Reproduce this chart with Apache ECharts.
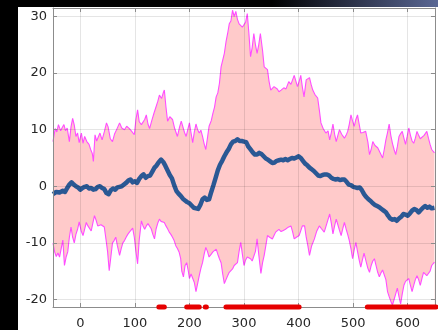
<!DOCTYPE html>
<html lang="en">
<head>
  <meta charset="UTF-8">
  <title>mean with spread</title>
  <style>
    html, body { margin: 0; padding: 0; background: #fff; }
    #main { width: 438px; height: 330px; }
  </style>
</head>
<body>
  <div id="main"></div>
</body>
<script src="https://cdn.jsdelivr.net/npm/echarts@6/dist/echarts.min.js"></script>
<script>
  var chart = echarts.init(document.getElementById('main'));

  // axis ranges and tick labels
  var X_MIN = -50, X_MAX = 650;
  var Y_MIN = -21.33, Y_MAX = 31.5;
  var xTicks = [0, 100, 200, 300, 400, 500, 600];
  var yTicks = [-20, -10, 0, 10, 20, 30];

  // upper bound (magenta)
  var upper = [
    [-50,7.9],[-46,10.2],[-43,9.6],[-40,10.9],[-36,9.8],[-33,10.4],[-30,10.9],[-27,9.8],[-24,10.3],[-20,7.9],
    [-17,10.5],[-14,12.0],[-11,10.8],[-8,8.8],[-5,9.4],[-2,7.7],[2,9.4],[5,7.6],[8,8.8],[12,7.9],
    [16,7.4],[19,6.5],[22,5.8],[24,4.4],[27,9.1],[30,8.0],[33,7.7],[36,9.4],[40,8.2],[44,9.6],
    [48,11.2],[51,10.5],[55,8.4],[59,7.9],[63,9.3],[67,10.1],[72,11.2],[76,10.3],[81,10.0],[85,10.6],
    [90,10.2],[95,9.6],[99,9.1],[102,11.8],[105,13.5],[108,11.4],[112,10.9],[115,10.9],[118,11.8],[121,12.6],
    [124,11.0],[127,10.2],[131,11.6],[135,12.9],[139,14.1],[142,15.0],[145,16.1],[149,15.5],[152,16.5],[154,17.0],
    [157,14.0],[160,11.5],[164,12.3],[169,11.8],[173,10.2],[178,8.8],[182,10.5],[185,11.5],[188,11.5],[191,9.5],
    [194,8.8],[197,10.0],[200,11.2],[203,9.4],[206,7.7],[209,9.6],[212,11.0],[215,10.0],[218,9.4],[221,9.9],
    [224,8.8],[227,7.5],[230,6.5],[233,8.5],[236,10.6],[240,11.6],[243,12.9],[246,14.0],[249,15.8],[252,16.5],
    [255,18.2],[258,21.1],[261,22.3],[264,23.5],[267,25.5],[270,27.0],[273,28.7],[276,29.2],[279,31.1],[282,30.0],
    [285,30.9],[288,29.5],[291,28.7],[294,28.8],[297,28.1],[300,28.0],[303,29.0],[306,30.5],[309,27.0],[312,22.9],
    [315,24.5],[318,27.0],[321,25.0],[324,23.5],[327,25.0],[330,27.0],[334,24.0],[337,21.1],[340,21.4],[343,20.6],
    [346,18.5],[349,17.0],[352,17.2],[355,17.6],[358,17.9],[361,17.2],[364,16.7],[368,17.0],[373,17.4],[377,17.2],
    [382,18.5],[386,18.0],[389,18.8],[392,19.6],[395,19.9],[398,17.6],[401,18.5],[404,19.6],[407,17.5],[410,15.8],
    [414,18.8],[417,19.0],[420,19.2],[423,18.0],[426,17.0],[430,16.2],[435,15.6],[438,13.5],[441,11.2],[445,10.2],
    [450,9.4],[454,9.8],[457,8.2],[460,9.5],[463,11.0],[466,9.2],[469,7.9],[472,9.0],[475,10.0],[479,9.2],
    [484,8.5],[487,9.0],[490,9.7],[493,11.0],[496,12.6],[499,11.5],[502,10.6],[505,11.8],[508,12.6],[511,11.0],
    [514,9.4],[518,9.5],[523,9.7],[527,7.8],[530,5.6],[533,6.5],[536,7.9],[540,7.2],[545,6.8],[549,6.0],
    [554,5.0],[557,6.5],[560,8.2],[563,9.5],[566,11.0],[569,9.0],[572,7.6],[575,6.5],[578,5.6],[581,7.0],
    [584,8.8],[587,9.3],[590,9.7],[593,8.5],[596,7.4],[599,8.8],[602,10.3],[605,9.0],[608,8.0],[611,7.6],
    [614,8.5],[617,9.7],[620,9.0],[623,8.4],[626,8.2],[630,9.0],[635,9.7],[638,8.5],[641,7.4],[644,6.5],[649,5.9]
  ];

  // lower bound (magenta)
  var lower = [
    [-50,-10.0],[-47,-11.6],[-44,-12.4],[-41,-11.8],[-38,-12.5],[-35,-12.5],[-32,-9.5],[-29,-14.0],[-26,-12.5],[-23,-11.6],
    [-20,-9.0],[-17,-7.2],[-14,-9.0],[-11,-10.0],[-8,-8.5],[-5,-7.6],[-2,-6.3],[2,-8.0],[5,-8.7],[8,-8.7],
    [11,-6.4],[14,-7.0],[17,-7.0],[20,-7.9],[23,-6.5],[26,-5.2],[29,-6.0],[32,-7.0],[35,-7.2],[38,-6.8],
    [41,-7.0],[44,-7.2],[47,-9.3],[50,-11.5],[53,-14.9],[56,-12.5],[59,-10.0],[62,-9.6],[65,-9.0],[68,-10.5],
    [72,-12.2],[75,-11.0],[78,-10.0],[81,-9.6],[84,-9.0],[87,-8.5],[90,-8.1],[93,-7.8],[96,-7.4],[99,-9.0],
    [102,-11.5],[105,-13.7],[108,-9.5],[112,-6.1],[115,-7.0],[118,-7.6],[121,-7.0],[124,-6.6],[127,-6.4],[130,-7.5],
    [133,-8.5],[136,-9.3],[139,-7.5],[142,-6.5],[145,-5.8],[148,-6.2],[151,-6.0],[154,-6.4],[157,-7.0],[160,-7.5],
    [163,-8.1],[166,-8.5],[169,-9.0],[172,-9.6],[175,-10.5],[178,-11.0],[181,-11.6],[184,-12.8],[186,-15.0],[189,-16.0],
    [192,-14.0],[195,-13.5],[198,-15.0],[200,-16.3],[203,-15.5],[206,-15.2],[209,-17.0],[212,-18.6],[215,-17.2],[218,-15.8],
    [221,-14.5],[224,-13.5],[227,-12.0],[230,-10.8],[233,-11.5],[236,-12.5],[240,-12.0],[243,-11.6],[246,-11.3],[249,-11.1],
    [252,-12.0],[255,-12.8],[258,-13.5],[261,-15.5],[264,-17.2],[267,-16.5],[270,-15.8],[273,-15.2],[276,-15.0],[279,-14.6],
    [282,-14.0],[285,-13.8],[288,-13.5],[291,-11.5],[294,-9.9],[297,-12.0],[300,-14.0],[303,-13.0],[306,-12.5],[309,-12.2],
    [312,-12.8],[315,-13.2],[318,-13.5],[321,-11.5],[324,-9.3],[327,-12.0],[331,-15.4],[334,-13.5],[337,-12.2],[340,-10.5],
    [343,-8.7],[347,-9.0],[352,-9.3],[355,-8.7],[358,-8.1],[361,-7.8],[364,-7.6],[368,-8.0],[372,-7.8],[376,-7.6],
    [380,-7.3],[383,-7.2],[386,-7.0],[389,-8.0],[392,-9.3],[396,-9.0],[401,-8.7],[404,-8.5],[407,-7.0],[411,-7.0],
    [414,-9.0],[417,-10.5],[420,-12.2],[424,-10.5],[429,-9.3],[433,-8.0],[438,-7.0],[442,-7.5],[447,-8.1],[452,-6.5],
    [457,-4.9],[460,-6.5],[463,-8.4],[466,-7.0],[469,-5.8],[472,-6.8],[475,-7.8],[478,-8.7],[481,-7.5],[484,-6.4],
    [487,-7.5],[490,-8.5],[493,-9.6],[496,-11.0],[499,-12.8],[502,-11.2],[505,-9.9],[508,-11.5],[511,-13.0],[514,-14.3],
    [517,-13.0],[520,-11.8],[523,-13.0],[527,-14.5],[530,-15.2],[533,-14.0],[536,-13.2],[539,-12.8],[542,-14.0],[545,-15.2],
    [548,-16.0],[551,-15.3],[554,-14.8],[557,-14.6],[560,-16.5],[563,-18.6],[566,-19.5],[569,-20.3],[572,-21.0],[575,-20.0],
    [578,-19.0],[581,-18.0],[584,-19.5],[587,-20.8],[590,-19.0],[593,-17.5],[596,-16.8],[599,-16.5],[602,-16.3],[605,-17.5],
    [608,-18.6],[611,-17.5],[614,-16.5],[617,-15.8],[620,-16.5],[623,-17.5],[626,-16.3],[629,-15.2],[632,-15.5],[635,-15.8],
    [638,-16.0],[641,-15.0],[644,-14.0],[649,-13.4]
  ];

  // mean (thick blue)
  var mean = [
    [-50,-1.4],[-44,-1.0],[-38,-1.1],[-32,-0.8],[-28,-1.0],[-24,-0.3],[-20,0.3],[-16,0.7],[-12,0.3],[-8,0.0],
    [-4,-0.2],[0,-0.6],[4,-0.3],[8,-0.1],[12,0.0],[16,-0.4],[20,-0.3],[24,-0.6],[28,-0.5],[32,-0.1],
    [36,0.0],[40,-0.3],[44,-0.5],[48,-1.2],[52,-1.4],[56,-0.7],[60,-0.4],[64,-0.6],[68,-0.2],[72,-0.1],
    [76,0.0],[80,0.3],[84,0.6],[88,1.0],[92,1.2],[96,0.7],[100,0.9],[104,0.6],[108,1.3],[112,1.8],
    [116,2.1],[120,1.5],[124,1.8],[128,1.9],[132,2.6],[136,3.3],[140,3.7],[144,4.3],[148,4.7],[152,4.3],
    [156,3.6],[160,2.8],[164,2.0],[168,1.4],[172,0.2],[176,-0.8],[180,-1.3],[184,-1.7],[188,-2.2],[192,-2.5],
    [196,-2.8],[200,-3.0],[204,-3.4],[208,-3.8],[212,-3.9],[216,-4.0],[220,-3.3],[224,-2.3],[228,-2.0],[232,-2.4],
    [236,-2.3],[240,-1.0],[244,0.2],[248,1.5],[252,2.8],[256,3.8],[260,4.5],[264,5.3],[268,6.0],[272,6.6],
    [276,7.4],[280,7.9],[284,8.0],[288,8.3],[292,8.0],[296,8.0],[300,7.9],[304,7.8],[308,7.0],[312,6.5],
    [316,6.0],[320,5.6],[324,5.6],[328,5.9],[332,5.7],[336,5.3],[340,4.9],[344,4.7],[348,4.4],[352,4.1],
    [356,4.2],[360,4.5],[364,4.6],[368,4.7],[372,4.6],[376,4.8],[380,4.6],[384,4.8],[388,5.0],[392,4.9],
    [396,5.1],[400,5.3],[404,5.0],[408,4.5],[412,4.0],[416,3.7],[420,3.3],[424,3.0],[428,2.7],[432,2.3],
    [436,1.9],[440,1.8],[444,2.0],[448,2.1],[452,2.1],[456,1.9],[460,1.5],[464,1.3],[468,1.2],[472,1.3],
    [476,1.1],[480,1.2],[484,1.2],[488,0.8],[492,0.3],[496,0.2],[500,-0.1],[504,-0.2],[508,-0.3],[512,-0.2],
    [516,-0.7],[520,-1.4],[524,-1.9],[528,-2.3],[532,-2.6],[536,-3.0],[540,-3.3],[544,-3.5],[548,-3.7],[552,-4.0],
    [556,-4.3],[560,-4.6],[564,-5.2],[568,-5.7],[572,-5.9],[576,-5.8],[580,-6.1],[584,-5.7],[588,-5.4],[592,-4.9],
    [596,-5.0],[600,-5.2],[604,-4.8],[608,-4.3],[612,-4.0],[616,-4.2],[620,-4.6],[624,-4.2],[628,-3.8],[632,-3.5],
    [636,-3.8],[640,-3.6],[644,-3.9],[649,-3.8]
  ];

  // red marked stretches along the bottom axis [start, end]
  var marked = [[144, 154], [195, 218], [229, 231], [267, 401], [526, 652]];

  var gridColor = 'rgba(0,0,0,0.10)';
  var axisColor = '#8c8c8c';
  var labelStyle = { color: '#262626', fontFamily: 'DejaVu Sans', fontSize: 13 };

  // top and right edges of the box, ticks only
  function boxAxis(pos, isX) {
    return {
      type: 'value',
      position: pos,
      min: isX ? X_MIN : Y_MIN,
      max: isX ? X_MAX : Y_MAX,
      z: 5,
      axisLine: { show: true, onZero: false, lineStyle: { color: axisColor, width: 1 } },
      axisTick: { show: true, inside: true, length: 4, lineStyle: { color: axisColor },
                  customValues: isX ? xTicks : yTicks },
      axisLabel: { show: false },
      splitLine: { show: false }
    };
  }

  var markSeries = marked.map(function (seg) {
    return {
      type: 'line',
      xAxisIndex: 0,
      yAxisIndex: 0,
      data: [[seg[0], Y_MIN], [seg[1], Y_MIN]],
      symbol: 'none',
      clip: false,
      z: 8,
      silent: true,
      lineStyle: { color: '#e60000', width: 5, cap: 'round' }
    };
  });

  var option = {
    backgroundColor: '#ffffff',
    animation: false,
    grid: { left: 53, right: 3, top: 8, bottom: 22 },
    xAxis: [
      {
        type: 'value',
        position: 'bottom',
        min: X_MIN,
        max: X_MAX,
        z: 5,
        axisLine: { show: true, onZero: false, lineStyle: { color: axisColor, width: 1 } },
        axisTick: { show: true, inside: true, length: 4, lineStyle: { color: axisColor }, customValues: xTicks },
        axisLabel: Object.assign({ margin: 10, customValues: xTicks, showMinLabel: true, showMaxLabel: true }, labelStyle),
        splitLine: { show: true, lineStyle: { color: gridColor, width: 1 } }
      },
      boxAxis('top', true)
    ],
    yAxis: [
      {
        type: 'value',
        position: 'left',
        min: Y_MIN,
        max: Y_MAX,
        z: 5,
        axisLine: { show: true, onZero: false, lineStyle: { color: axisColor, width: 1 } },
        axisTick: { show: true, inside: true, length: 4, lineStyle: { color: axisColor }, customValues: yTicks },
        axisLabel: Object.assign({ margin: 6, customValues: yTicks }, labelStyle),
        splitLine: { show: true, lineStyle: { color: gridColor, width: 1 } }
      },
      boxAxis('right', false)
    ],
    series: [
      {
        name: 'upper',
        type: 'line',
        data: upper,
        symbol: 'none',
        z: 2,
        lineStyle: { color: '#ff4dff', width: 1.1 },
        areaStyle: { color: '#ffcaca', opacity: 1, origin: 'start' }
      },
      {
        name: 'lower',
        type: 'line',
        data: lower,
        symbol: 'none',
        z: 3,
        lineStyle: { color: '#ff4dff', width: 1.1 },
        areaStyle: { color: '#ffffff', opacity: 1, origin: 'start' }
      },
      {
        name: 'mean',
        type: 'line',
        data: mean,
        symbol: 'none',
        z: 4,
        lineStyle: { color: '#2a5894', width: 4.5, join: 'round' }
      }
    ].concat(markSeries),
    graphic: [
      {
        type: 'rect',
        left: 0, top: 0,
        shape: { width: 18, height: 330 },
        style: { fill: '#000' },
        z: 100
      },
      {
        type: 'rect',
        left: 0, top: 0,
        shape: { width: 438, height: 7 },
        style: {
          fill: new echarts.graphic.LinearGradient(0, 0, 1, 0, [
            { offset: 0, color: '#000000' },
            { offset: 0.62, color: '#000000' },
            { offset: 1, color: '#5a6794' }
          ])
        },
        z: 100
      }
    ]
  };

  chart.setOption(option);
</script>
</html>
